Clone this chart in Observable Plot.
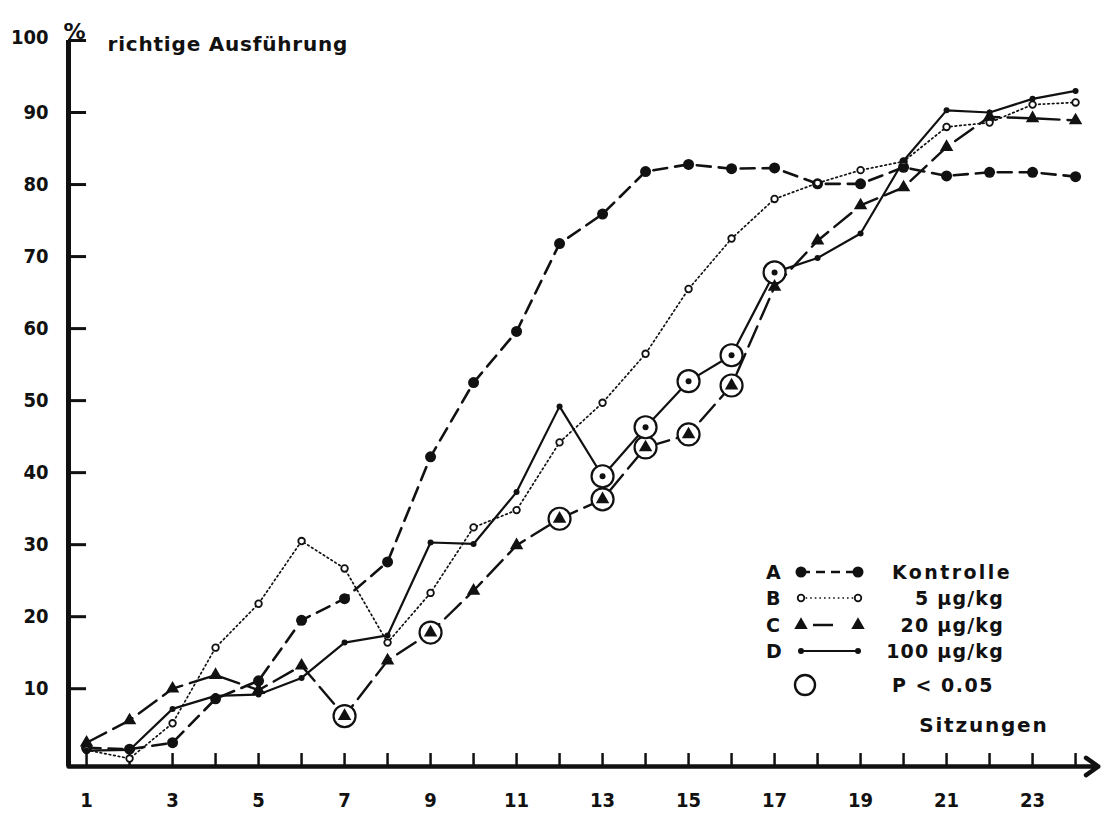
<!DOCTYPE html>
<html><head><meta charset="utf-8">
<script src="https://cdn.jsdelivr.net/npm/d3@7"></script>
<script src="https://cdn.jsdelivr.net/npm/@observablehq/plot@0.6"></script>
<style>
body{margin:0;background:#fff;}
#wrap{position:relative;width:1104px;height:817px;background:#fff;}
#legend{position:absolute;left:0;top:0;}
</style></head><body><div id="wrap"></div>
<script>
// ---- data ----
const sessions   = [1,2,3,4,5,6,7,8,9,10,11,12,13,14,15,16,17,18,19,20,21,22,23,24];
const kontrolle  = [1.8,1.6,2.5,8.6,11.1,19.5,22.5,27.6,42.2,52.5,59.6,71.8,75.9,81.8,82.8,82.2,82.3,80.1,80.1,82.4,81.2,81.7,81.7,81.1];
const dose5      = [1.5,0.3,5.2,15.7,21.8,30.5,26.7,16.4,23.3,32.4,34.8,44.2,49.7,56.5,65.5,72.5,78.0,80.2,82.0,83.2,88.0,88.6,91.1,91.4];
const dose20     = [2.5,5.6,10.0,11.9,9.8,13.2,6.2,13.9,17.8,23.6,29.9,33.6,36.3,43.5,45.3,52.1,65.8,72.2,77.1,79.6,85.2,89.4,89.2,88.9];
const dose100    = [1.4,1.5,7.2,9.0,9.2,11.5,16.4,17.4,30.3,30.1,37.3,49.2,39.5,46.3,52.7,56.3,67.8,69.8,73.2,83.3,90.3,90.0,91.9,93.0];
const sig20      = [7,9,12,13,14,15,16];      // P < 0.05 sessions, 20 µg/kg
const sig100     = [13,14,15,16,17];          // P < 0.05 sessions, 100 µg/kg
const yTicks     = [10,20,30,40,50,60,70,80,90];
const yTopLabel  = 100;
const xTickLabels= [1,3,5,7,9,11,13,15,17,19,21,23];
const legendKeys = ["A","B","C","D"];
const legendText = ["Kontrolle","5 µg/kg","20 µg/kg","100 µg/kg"];
const sigText    = "P < 0.05";
const yTitle     = "richtige Ausführung";
const xTitle     = "Sitzungen";

// ---- build tables ----
const rows = (vals) => sessions.map((s,i)=>({s, v: vals[i]}));
const A = rows(kontrolle), B = rows(dose5), C = rows(dose20), D = rows(dose100);
const sigRows = [
  ...sig20.map(s=>({s, v: dose20[sessions.indexOf(s)]})),
  ...sig100.map(s=>({s, v: dose100[sessions.indexOf(s)]}))
];

const INK = "#111";
const FONT = '"DejaVu Sans Condensed","DejaVu Sans",sans-serif';
const FONT_WIDE = '"DejaVu Sans",sans-serif';
const xDomain = [0.58, 24.58];
const yDomain = [-0.8, 100];

const styles = {
  A: {stroke: INK, strokeWidth: 2.6, strokeDasharray: "14,8"},
  B: {stroke: INK, strokeWidth: 1.7, strokeDasharray: "1.6,3"},
  C: {stroke: INK, strokeWidth: 2.4, strokeDasharray: "22,8"},
  D: {stroke: INK, strokeWidth: 2.2}
};

const chart = Plot.plot({
  width: 1104, height: 817,
  marginLeft: 68, marginRight: 4, marginTop: 40, marginBottom: 51,
  x: {domain: xDomain, axis: null},
  y: {domain: yDomain, axis: null},
  style: {background: "white", fontFamily: FONT},
  marks: [
    // axes
    Plot.ruleX([xDomain[0]], {y1: yDomain[0], y2: yTopLabel, stroke: INK, strokeWidth: 5}),
    Plot.ruleY([...yTicks, yTopLabel], {y: d=>d, x1: xDomain[0], x2: xDomain[0] + 0.42, stroke: INK, strokeWidth: 3}),
    Plot.ruleX(sessions, {x: d=>d, y1: yDomain[0], y2: yDomain[0] + 1.8, stroke: INK, strokeWidth: 2.5}),
    Plot.arrow([0], {x1: xDomain[0], x2: xDomain[1] - 0.05, y1: yDomain[0], y2: yDomain[0], stroke: INK, strokeWidth: 4.5, headLength: 5, headAngle: 70}),
    Plot.text(yTicks, {x: xDomain[0], y: d=>d, text: d=>String(d), dx: -20, textAnchor: "end", fontSize: 20, fontWeight: "bold", fill: INK}),
    Plot.text([yTopLabel], {x: xDomain[0], y: d=>d, text: d=>String(d), dx: -20, dy: -3, textAnchor: "end", fontSize: 20, fontWeight: "bold", fill: INK}),
    Plot.text(["%"], {frameAnchor: "top-left", dx: 6, dy: -17, textAnchor: "middle", text: d=>d, fontSize: 22, fontWeight: "bold", fill: INK, fontFamily: FONT_WIDE}),
    Plot.text([yTitle], {frameAnchor: "top-left", dx: 39, dy: -4, textAnchor: "start", text: d=>d, fontSize: 20, fontWeight: "bold", fill: INK, fontFamily: FONT_WIDE}),
    Plot.text(xTickLabels, {x: d=>d, y: yDomain[0], dy: 34, text: d=>String(d), fontSize: 20, fontWeight: "bold", fill: INK}),
    Plot.text([xTitle], {frameAnchor: "bottom-right", dx: -52, dy: -35, textAnchor: "end", text: d=>d, fontSize: 20, fontWeight: "bold", fill: INK, fontFamily: FONT_WIDE}),
    // series lines
    Plot.line(A, {x: "s", y: "v", ...styles.A}),
    Plot.line(B, {x: "s", y: "v", ...styles.B}),
    Plot.line(C, {x: "s", y: "v", ...styles.C}),
    Plot.line(D, {x: "s", y: "v", ...styles.D}),
    // significance rings
    Plot.dot(sigRows, {x: "s", y: "v", r: 11, stroke: INK, strokeWidth: 2.2, fill: "white"}),
    // markers
    Plot.dot(A, {x: "s", y: "v", r: 5.5, fill: INK}),
    Plot.dot(B, {x: "s", y: "v", r: 3.3, fill: "white", stroke: INK, strokeWidth: 1.8}),
    Plot.dot(C, {x: "s", y: "v", symbol: "triangle", r: 5, fill: INK}),
    Plot.dot(D, {x: "s", y: "v", r: 3, fill: INK})
  ]
});
// letter spacing for the two axis titles
d3.select(chart).selectAll("text").each(function(){
  if (this.textContent === yTitle) d3.select(this).style("letter-spacing", "0.8px");
  if (this.textContent === xTitle) d3.select(this).style("letter-spacing", "1.8px");
});
const wrap = document.getElementById("wrap");
wrap.appendChild(chart);

// ---- legend overlay ----
const svg = d3.select(wrap).append("svg").attr("id","legend")
  .attr("width", 1104).attr("height", 817)
  .style("font-family", FONT_WIDE).style("font-weight", "bold");
const rowY = [572, 598, 625, 651];
const x0 = 801, x1 = 858;
legendKeys.forEach((k, i) => {
  const y = rowY[i];
  svg.append("text").attr("x", 766).attr("y", y).attr("dy", "0.36em").attr("font-size", 19).attr("fill", INK).text(k);
  const st = styles[k];
  svg.append("line").attr("x1", x0).attr("x2", x1).attr("y1", y).attr("y2", y)
    .attr("stroke", st.stroke).attr("stroke-width", st.strokeWidth)
    .attr("stroke-dasharray", k === "A" ? "9,6" : k === "C" ? "0,12,20,100" : st.strokeDasharray || null);
  [x0, x1].forEach(x => {
    if (k === "A") svg.append("circle").attr("cx", x).attr("cy", y).attr("r", 5.5).attr("fill", INK);
    if (k === "B") svg.append("circle").attr("cx", x).attr("cy", y).attr("r", 3.3).attr("fill", "white").attr("stroke", INK).attr("stroke-width", 1.8);
    if (k === "C") svg.append("path").attr("transform", `translate(${x},${y})`).attr("d", d3.symbol(d3.symbolTriangle, Math.PI*25)()).attr("fill", INK);
    if (k === "D") svg.append("circle").attr("cx", x).attr("cy", y).attr("r", 3).attr("fill", INK);
  });
  const t = svg.append("text").attr("y", y).attr("dy", "0.36em").attr("font-size", 19).attr("fill", INK).text(legendText[i]);
  if (i === 0) t.attr("x", 892).style("letter-spacing", "2.4px");
  else t.attr("x", 1004).attr("text-anchor", "end").style("letter-spacing", "1.2px");
});
svg.append("circle").attr("cx", 805).attr("cy", 685).attr("r", 10).attr("fill", "none").attr("stroke", INK).attr("stroke-width", 2.4);
svg.append("text").attr("x", 892).attr("y", 685).attr("dy", "0.36em").attr("font-size", 19).attr("fill", INK).style("letter-spacing", "1.5px").text(sigText);
</script></body></html>
